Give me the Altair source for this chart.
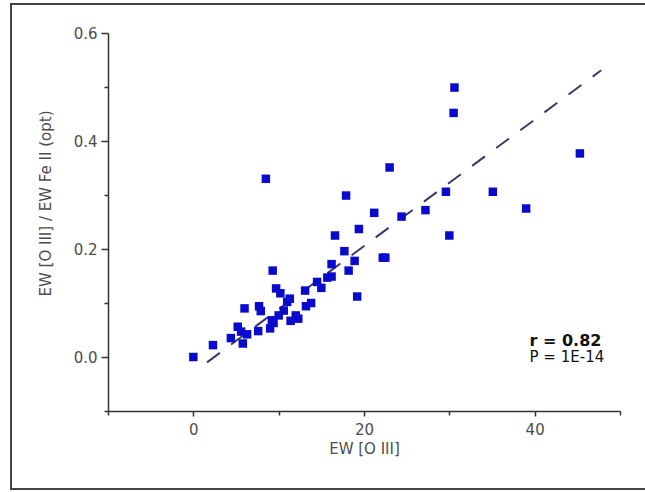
import altair as alt
import pandas as pd

# Equivalent widths of [O III] and the [O III] / Fe II (optical) ratio per object
ew_oiii = [0.0, 2.3, 4.4, 5.2, 5.6, 5.8, 6.0, 6.3, 7.6, 7.7, 7.9, 9.0, 9.2, 9.3,
           9.4, 9.7, 10.0, 10.2, 10.6, 11.0, 11.3, 11.4, 12.0, 12.3, 13.1, 13.2,
           13.8, 14.5, 15.0, 15.7, 16.2, 16.2, 16.6, 17.7, 17.9, 18.2, 18.9, 19.2,
           19.4, 8.5, 21.2, 22.2, 22.5, 23.0, 24.4, 27.2, 29.6, 30.0, 30.5, 30.6,
           35.1, 39.0, 45.3]
ratio = [0.000, 0.022, 0.035, 0.056, 0.047, 0.025, 0.090, 0.042, 0.048, 0.094,
         0.085, 0.053, 0.068, 0.160, 0.063, 0.127, 0.077, 0.118, 0.086, 0.102,
         0.108, 0.067, 0.077, 0.071, 0.123, 0.094, 0.100, 0.139, 0.128, 0.147,
         0.149, 0.172, 0.225, 0.196, 0.299, 0.160, 0.178, 0.112, 0.237, 0.330,
         0.267, 0.184, 0.184, 0.351, 0.260, 0.272, 0.306, 0.225, 0.452, 0.499,
         0.306, 0.275, 0.377]

# Linear fit drawn as a dashed line
fit_x = [1.6, 47.8]
fit_y = [-0.010, 0.531]

# Tick positions
x_major = [0, 20, 40]
x_minor = [-10, 10, 30, 50]
y_major = [0.0, 0.2, 0.4, 0.6]
y_minor = [-0.1, 0.1, 0.3, 0.5]

# Correlation statistics
r_text = ["r = 0.82"]
p_text = ["P = 1E-14"]
stat_x = [39.4]
r_y = [0.020]
p_y = [-0.010]

FONT = "DejaVu Sans"
LABEL_GRAY = "#4d4d4d"
AXIS_DARK = "#333333"

pts = pd.DataFrame({"ew": ew_oiii, "ratio": ratio})
fit = pd.DataFrame({"fx": fit_x, "fy": fit_y})
r_df = pd.DataFrame({"t": r_text, "sx": stat_x, "sy": r_y})
p_df = pd.DataFrame({"t": p_text, "sx": stat_x, "sy": p_y})

xscale = alt.Scale(domain=[-10, 50], nice=False, zero=False)
yscale = alt.Scale(domain=[-0.1, 0.6], nice=False, zero=False)

points = alt.Chart(pts).mark_point(
    shape="square", filled=True, size=72, color="#0a0acc", opacity=1
).encode(
    x=alt.X("ew:Q", scale=xscale, axis=alt.Axis(
        orient="bottom", values=x_major, title="EW [O III]", grid=False,
        tickSize=5, tickColor=AXIS_DARK, tickWidth=1.5,
        domainColor=AXIS_DARK, domainWidth=1.5,
        labelFont=FONT, labelFontSize=15, labelColor=LABEL_GRAY, labelPadding=6,
        titleFont=FONT, titleFontSize=15, titleFontWeight="normal",
        titleColor=LABEL_GRAY, titleY=30, titleBaseline="top")),
    y=alt.Y("ratio:Q", scale=yscale, axis=alt.Axis(
        orient="left", values=y_major, format=".1f",
        title="EW [O III] / EW Fe II (opt)", grid=False,
        tickSize=7, tickColor=AXIS_DARK, tickWidth=1.5,
        domainColor=AXIS_DARK, domainWidth=1.5,
        labelFont=FONT, labelFontSize=15, labelColor=LABEL_GRAY, labelPadding=4,
        titleFont=FONT, titleFontSize=15, titleFontWeight="normal",
        titleColor=LABEL_GRAY, titleX=-55, titleY=170)),
)

# The fit line also carries the short minor ticks
line = alt.Chart(fit).mark_line(
    color="#3a3a6a", strokeWidth=2, strokeDash=[16, 14]
).encode(
    x=alt.X("fx:Q", scale=xscale, axis=alt.Axis(
        orient="bottom", values=x_minor, labels=False, domain=False, grid=False,
        tickSize=4, tickColor=AXIS_DARK, tickWidth=1.5, title="")),
    y=alt.Y("fy:Q", scale=yscale, axis=alt.Axis(
        orient="left", values=y_minor, labels=False, domain=False, grid=False,
        tickSize=4, tickColor=AXIS_DARK, tickWidth=1.5, title="")),
)

r_label = alt.Chart(r_df).mark_text(
    align="left", baseline="alphabetic", font=FONT, fontSize=16,
    fontWeight="bold", color="#111111"
).encode(
    x=alt.X("sx:Q", scale=xscale, axis=None),
    y=alt.Y("sy:Q", scale=yscale, axis=None),
    text="t:N",
)

p_label = alt.Chart(p_df).mark_text(
    align="left", baseline="alphabetic", font=FONT, fontSize=15,
    color="#111111"
).encode(
    x=alt.X("sx:Q", scale=xscale, axis=None),
    y=alt.Y("sy:Q", scale=yscale, axis=None),
    text="t:N",
)

# Outer border of the figure
frame = alt.Chart(pd.DataFrame({"k": [0]})).mark_rect(
    fillOpacity=0, stroke="#444444", strokeWidth=2
).encode(
    x=alt.value(-97), x2=alt.value(548), y=alt.value(-29), y2=alt.value(456)
)

chart = alt.layer(line, points, r_label, p_label, frame).resolve_axis(
    x="independent", y="independent"
).properties(
    width=512, height=378,
    background="white",
    autosize=alt.AutoSizeParams(type="none"),
    padding={"left": 108, "top": 33, "right": 25, "bottom": 81},
).configure_view(strokeWidth=0)

chart.save("out.html", embed_options={"renderer": "svg", "actions": False})
